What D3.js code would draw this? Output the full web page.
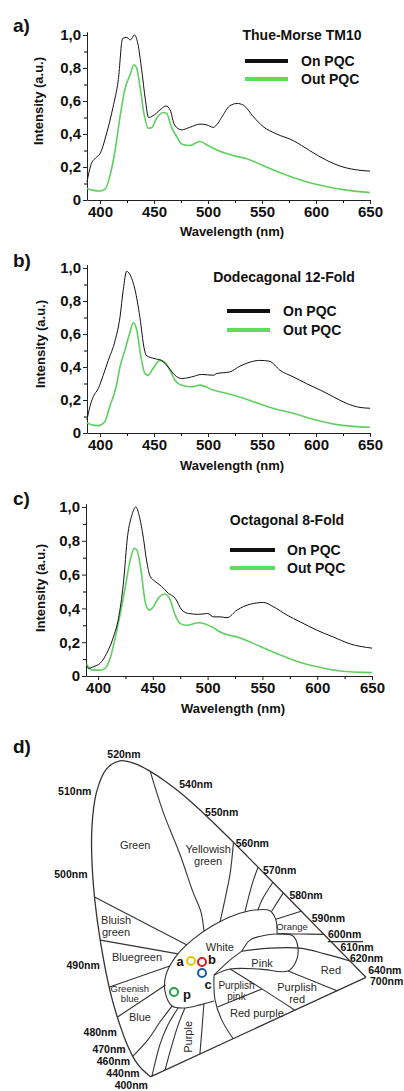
<!DOCTYPE html>
<html>
<head>
<meta charset="utf-8">
<script src="https://cdn.jsdelivr.net/npm/d3@7"></script>
<style>
  body { margin: 0; background: #fff; }
  svg { display: block; font-family: "Liberation Sans", Arial, sans-serif; }
</style>
</head>
<body>
<svg id="fig" width="404" height="1091"></svg>
<script>
// ---- spectra (wavelength nm / normalised intensity) ----
var aOnNm  = [388, 392, 397, 400, 406, 412, 417, 421, 425, 428, 432, 435, 438.6, 442, 445, 449, 455.5, 461, 465, 469, 475.6, 483, 492.6, 499, 505, 508, 512.6, 520, 527, 532.7, 542, 551, 563.6, 579, 594, 610, 625, 640.7, 650];
var aOnVal = [0.11, 0.22, 0.26, 0.28, 0.40, 0.56, 0.73, 0.98, 0.985, 0.97, 1.0, 0.95, 0.79, 0.61, 0.50, 0.51, 0.545, 0.57, 0.545, 0.455, 0.425, 0.44, 0.46, 0.455, 0.44, 0.455, 0.50, 0.57, 0.585, 0.575, 0.505, 0.445, 0.40, 0.36, 0.30, 0.24, 0.20, 0.18, 0.175];
var aOutNm  = [388, 393, 400, 404.6, 409, 414, 418.5, 423, 428, 431.5, 434, 437, 440.7, 444.7, 448, 452.5, 458.6, 461.7, 466, 471, 475.6, 483, 492.6, 500, 511, 523, 536, 554, 573, 591, 610, 628, 650];
var aOutVal = [0.07, 0.06, 0.055, 0.065, 0.14, 0.30, 0.50, 0.67, 0.76, 0.82, 0.80, 0.69, 0.525, 0.435, 0.44, 0.495, 0.53, 0.525, 0.445, 0.385, 0.34, 0.33, 0.355, 0.33, 0.295, 0.27, 0.25, 0.20, 0.15, 0.11, 0.08, 0.06, 0.045];

var bOnNm  = [388, 390.7, 393.8, 398.5, 403, 407.7, 414, 418.5, 421.6, 424.7, 427.8, 432.4, 437, 441, 443, 451, 457, 463, 469.4, 475.6, 485, 494, 505, 508, 520, 529.6, 539, 548, 557, 566.7, 579, 591, 604, 616, 628, 640.7, 650];
var bOnVal = [0.08, 0.16, 0.22, 0.27, 0.35, 0.44, 0.56, 0.70, 0.87, 0.98, 0.96, 0.87, 0.70, 0.51, 0.47, 0.45, 0.44, 0.40, 0.35, 0.33, 0.34, 0.355, 0.35, 0.36, 0.37, 0.405, 0.43, 0.44, 0.435, 0.38, 0.34, 0.30, 0.26, 0.22, 0.18, 0.155, 0.15];
var bOutNm  = [388, 392, 398.5, 404.6, 409, 415, 418.5, 423, 427.8, 430.9, 434, 438, 441.7, 444.8, 449, 455.5, 460, 465, 469.4, 475.6, 485, 492.6, 505, 511, 523, 542, 560, 579, 597.5, 616, 634.6, 650];
var bOutVal = [0.06, 0.05, 0.045, 0.07, 0.16, 0.28, 0.40, 0.50, 0.61, 0.67, 0.625, 0.46, 0.36, 0.35, 0.39, 0.44, 0.43, 0.38, 0.32, 0.29, 0.28, 0.29, 0.26, 0.25, 0.23, 0.19, 0.15, 0.12, 0.083, 0.055, 0.04, 0.035];

var cOnNm  = [389.6, 391, 395.7, 401.8, 408, 414, 418.6, 423, 427, 430.8, 434.5, 437.5, 441.4, 444.5, 447.5, 452, 458, 464, 470.4, 476.5, 482.5, 491.7, 500, 505.4, 511.5, 517.6, 526.8, 539, 551, 560, 572.5, 584.6, 600, 615, 630, 650];
var cOnVal = [0.06, 0.045, 0.055, 0.075, 0.135, 0.23, 0.34, 0.54, 0.83, 0.95, 1.0, 0.95, 0.815, 0.675, 0.59, 0.56, 0.53, 0.49, 0.46, 0.39, 0.37, 0.365, 0.37, 0.35, 0.35, 0.345, 0.39, 0.425, 0.435, 0.41, 0.36, 0.32, 0.27, 0.23, 0.19, 0.165];
var cOutNm  = [389.6, 391, 395.7, 401.8, 406.4, 411, 415.5, 420, 424.7, 429, 433, 435.4, 439.3, 443, 446.6, 450.6, 455, 461, 465.8, 470.4, 475, 481, 491.7, 505.4, 511.5, 529.8, 548, 566, 584.6, 603, 621, 650];
var cOutVal = [0.07, 0.055, 0.035, 0.035, 0.045, 0.105, 0.22, 0.36, 0.52, 0.675, 0.755, 0.745, 0.62, 0.44, 0.39, 0.41, 0.46, 0.485, 0.45, 0.36, 0.31, 0.30, 0.315, 0.285, 0.26, 0.225, 0.175, 0.125, 0.08, 0.05, 0.03, 0.02];

var panelLetters = ['a)', 'b)', 'c)'];
var panelTitles = ['Thue-Morse TM10', 'Dodecagonal 12-Fold', 'Octagonal 8-Fold'];
var seriesNames = ['On PQC', 'Out PQC'];
var xTickValues = [400, 450, 500, 550, 600, 650];
var xMinorValues = [425, 475, 525, 575, 625];
var yTickValues = [0, 0.2, 0.4, 0.6, 0.8, 1.0];
var yMinorValues = [0.1, 0.3, 0.5, 0.7, 0.9];

// ---- CIE 1931 spectral locus (nm, x, y) ----
var locusNm = [400, 405, 410, 415, 420, 425, 430, 435, 440, 445, 450, 455, 460, 465, 470, 475, 480, 485, 490, 495, 500, 505, 510, 515, 520, 525, 530, 535, 540, 545, 550, 555, 560, 565, 570, 575, 580, 585, 590, 595, 600, 605, 610, 615, 620, 625, 630, 635, 640, 645, 650, 660, 680, 700];
var locusX = [0.1733, 0.1730, 0.1726, 0.1721, 0.1714, 0.1703, 0.1689, 0.1669, 0.1644, 0.1611, 0.1566, 0.1510, 0.1440, 0.1355, 0.1241, 0.1096, 0.0913, 0.0687, 0.0454, 0.0235, 0.0082, 0.0039, 0.0139, 0.0389, 0.0743, 0.1142, 0.1547, 0.1929, 0.2296, 0.2658, 0.3016, 0.3373, 0.3731, 0.4087, 0.4441, 0.4788, 0.5125, 0.5448, 0.5752, 0.6029, 0.6270, 0.6482, 0.6658, 0.6801, 0.6915, 0.7006, 0.7079, 0.7140, 0.7190, 0.7230, 0.7260, 0.7300, 0.7334, 0.7347];
var locusY = [0.0048, 0.0048, 0.0048, 0.0048, 0.0051, 0.0058, 0.0069, 0.0086, 0.0109, 0.0138, 0.0177, 0.0227, 0.0297, 0.0399, 0.0578, 0.0868, 0.1327, 0.2007, 0.2950, 0.4127, 0.5384, 0.6548, 0.7502, 0.8120, 0.8338, 0.8262, 0.8059, 0.7816, 0.7543, 0.7243, 0.6923, 0.6589, 0.6245, 0.5896, 0.5547, 0.5202, 0.4866, 0.4544, 0.4242, 0.3965, 0.3725, 0.3514, 0.3340, 0.3197, 0.3083, 0.2993, 0.2920, 0.2859, 0.2809, 0.2770, 0.2740, 0.2700, 0.2666, 0.2653];

// wavelengths written along the locus
var nmLabels = [520, 510, 540, 550, 560, 570, 580, 590, 600, 610, 620, 640, 700, 500, 490, 480, 470, 460, 440, 400];

// colour-name region boundaries, in chromaticity coordinates
var kellyLines = [
  [[0.335, 0.203], [0.299, 0.193], [0.259, 0.185], [0.225, 0.190], [0.206, 0.227], [0.207, 0.271], [0.233, 0.321], [0.274, 0.363], [0.326, 0.400], [0.386, 0.429], [0.438, 0.442], [0.478, 0.440], [0.494, 0.416], [0.498, 0.379]],
  [[0.334, 0.271], [0.376, 0.287], [0.455, 0.287], [0.529, 0.282], [0.549, 0.306], [0.554, 0.342], [0.540, 0.374], [0.498, 0.379]],
  [[0.334, 0.271], [0.370, 0.306], [0.406, 0.334]],
  [[0.334, 0.271], [0.338, 0.206], [0.357, 0.153], [0.388, 0.104]],
  [[0.406, 0.334], [0.427, 0.363], [0.458, 0.374], [0.498, 0.379], [0.558, 0.379], [0.622, 0.378]],
  [[0.406, 0.334], [0.480, 0.342], [0.559, 0.342], [0.625, 0.327], [0.6915, 0.3083]],
  [[0.494, 0.418], [0.560, 0.439]],
  [[0.512, 0.487], [0.482, 0.438]],
  [[0.484, 0.515], [0.456, 0.468], [0.446, 0.442]],
  [[0.4441, 0.5547], [0.429, 0.508], [0.412, 0.437]],
  [[0.378, 0.619], [0.371, 0.539], [0.361, 0.482], [0.347, 0.411]],
  [[0.1547, 0.8059], [0.191, 0.699], [0.238, 0.587], [0.274, 0.489], [0.296, 0.437], [0.305, 0.387]],
  [[0.0158, 0.4756], [0.261, 0.350]],
  [[0.0327, 0.363], [0.238, 0.327]],
  [[0.059, 0.240], [0.217, 0.295]],
  [[0.082, 0.161], [0.207, 0.245]],
  [[0.1241, 0.0578], [0.163, 0.101], [0.194, 0.148], [0.225, 0.190]],
  [[0.176, 0.006], [0.195, 0.088], [0.215, 0.140], [0.241, 0.185]],
  [[0.210, 0.022], [0.227, 0.088], [0.242, 0.140], [0.259, 0.185]],
  [[0.309, 0.198], [0.305, 0.127], [0.301, 0.064]],
  [[0.345, 0.1875], [0.461, 0.235]],
  [[0.376, 0.287], [0.461, 0.235], [0.549, 0.179]],
  [[0.529, 0.282], [0.659, 0.230]],
  [[0.632, 0.359], [0.725, 0.359]]
];

var regionNames = [['Green'], ['Yellowish', 'green'], ['Bluish', 'green'], ['Bluegreen'], ['White'], ['Orange'], ['Pink'], ['Red'], ['Greenish', 'blue'], ['Blue'], ['Purplish', 'pink'], ['Purplish', 'red'], ['Red purple'], ['Purple']];
var regionXY = [[0.119, 0.613], [0.312, 0.587], [0.073, 0.399], [0.130, 0.319], [0.348, 0.345], [0.537, 0.400], [0.460, 0.303], [0.642, 0.285], [0.113, 0.224], [0.141, 0.161], [0.394, 0.231], [0.554, 0.224], [0.449, 0.172], [0.269, 0.109]];

// measured emission chromaticities
var pointNames = ['a', 'b', 'c', 'p'];
var pointXY = [[0.2725, 0.308], [0.3016, 0.3056], [0.3022, 0.2767], [0.2294, 0.2268]];
var pointColors = ['#f2c400', '#d81e1e', '#1c5aa6', '#2a9e44'];

var svg = d3.select('#fig');
var black = '#111';
var green = '#5fcf5f';

function fmtY(d) {
  return d === 0 ? '0' : d3.format('.1f')(d).replace('.', ',');
}

// one spectrum panel
function plotPanel(i, on, out, opt) {
  var x = d3.scaleLinear().domain(opt.xDomain).range(opt.xRange);
  var y = d3.scaleLinear().domain([0, 1.02]).range([opt.y0, opt.y0 - 1.02 * (opt.y0 - opt.y1)]);
  var g = svg.append('g');

  var line = d3.line()
      .x(function(d) { return x(d[0]); })
      .y(function(d) { return y(d[1]); })
      .curve(d3.curveMonotoneX);

  // minor ticks
  g.append('g')
    .attr('transform', 'translate(0,' + opt.y0 + ')')
    .call(d3.axisBottom(x).tickValues(xMinorValues).tickSize(3).tickFormat(''))
    .call(function(s) { s.select('.domain').remove(); });
  g.append('g')
    .attr('transform', 'translate(' + opt.xRange[0] + ',0)')
    .call(d3.axisLeft(y).tickValues(yMinorValues).tickSize(3).tickFormat(''))
    .call(function(s) { s.select('.domain').remove(); });

  // x axis
  var xa = g.append('g')
    .attr('transform', 'translate(0,' + opt.y0 + ')')
    .call(d3.axisBottom(x).tickValues(xTickValues).tickSize(4).tickSizeOuter(0).tickPadding(2));
  // y axis
  var ya = g.append('g')
    .attr('transform', 'translate(' + opt.xRange[0] + ',0)')
    .call(d3.axisLeft(y).tickValues(yTickValues).tickFormat(fmtY).tickSize(4).tickSizeOuter(0).tickPadding(2));

  [xa, ya].forEach(function(a) {
    a.attr('font-family', null).attr('font-size', null);
    a.selectAll('text').attr('font-size', 15).attr('font-weight', 'bold').attr('fill', black);
    a.selectAll('line, path').attr('stroke', '#222');
  });

  // curves
  g.append('path')
    .datum(d3.zip(out[0], out[1]))
    .attr('fill', 'none').attr('stroke', green).attr('stroke-width', 1.6)
    .attr('d', line);
  g.append('path')
    .datum(d3.zip(on[0], on[1]))
    .attr('fill', 'none').attr('stroke', black).attr('stroke-width', 1)
    .attr('d', line);

  // axis titles
  g.append('text')
    .attr('x', opt.xTitle[0]).attr('y', opt.xTitle[1])
    .attr('text-anchor', 'middle').attr('dominant-baseline', 'central')
    .attr('font-size', 13).attr('font-weight', 'bold').attr('fill', black)
    .text('Wavelength (nm)');
  g.append('text')
    .attr('transform', 'translate(' + opt.yTitle[0] + ',' + opt.yTitle[1] + ') rotate(-90)')
    .attr('text-anchor', 'middle').attr('dominant-baseline', 'central')
    .attr('font-size', 13).attr('font-weight', 'bold').attr('fill', black)
    .text('Intensity (a.u.)');

  // panel letter + title
  g.append('text')
    .attr('x', 13).attr('y', opt.letterY)
    .attr('dominant-baseline', 'central')
    .attr('font-size', 19).attr('font-weight', 'bold').attr('fill', black)
    .text(panelLetters[i]);
  g.append('text')
    .attr('x', opt.title[0]).attr('y', opt.title[1])
    .attr('text-anchor', 'middle').attr('dominant-baseline', 'central')
    .attr('font-size', 14).attr('font-weight', 'bold').attr('fill', black)
    .text(panelTitles[i]);

  // legend
  var lg = g.append('g');
  [black, green].forEach(function(c, k) {
    var ly = opt.legend.y[k];
    lg.append('line')
      .attr('x1', opt.legend.x[0]).attr('x2', opt.legend.x[1])
      .attr('y1', ly).attr('y2', ly)
      .attr('stroke', k === 0 ? black : '#5ddc5d').attr('stroke-width', 4);
    lg.append('text')
      .attr('x', opt.legend.tx).attr('y', ly)
      .attr('dominant-baseline', 'central')
      .attr('font-size', 14).attr('font-weight', 'bold').attr('fill', black)
      .text(seriesNames[k]);
  });
}

plotPanel(0, [aOnNm, aOnVal], [aOutNm, aOutVal], {
  xDomain: [388, 650], xRange: [87, 370], y0: 200, y1: 35,
  xTitle: [232, 231], yTitle: [38, 101], letterY: 25,
  title: [302, 35], legend: {x: [245, 288], y: [61, 79], tx: 301}
});
plotPanel(1, [bOnNm, bOnVal], [bOutNm, bOutVal], {
  xDomain: [388, 650], xRange: [87, 370], y0: 433, y1: 268,
  xTitle: [232, 465], yTitle: [40, 344], letterY: 260,
  title: [284, 277], legend: {x: [227, 270], y: [311, 330], tx: 283}
});
plotPanel(2, [cOnNm, cOnVal], [cOutNm, cOutVal], {
  xDomain: [389, 650], xRange: [86, 372], y0: 676, y1: 507,
  xTitle: [233, 708], yTitle: [40, 588], letterY: 498,
  title: [287, 520], legend: {x: [230, 275], y: [550, 568], tx: 287}
});

// ---- d) chromaticity diagram ----
var cieX = d3.scaleLinear().domain([0, 1]).range([85.2, 464.5]);
var cieY = d3.scaleLinear().domain([0, 1]).range([1078.4, 697.5]);
var cieShear = d3.scaleLinear().domain([0, 1]).range([0, 7.9]);   // drawing is slightly slanted
function proj(p) { return [cieX(p[0]) + cieShear(p[1]), cieY(p[1])]; }

var dg = svg.append('g');
var locus = d3.zip(locusX, locusY);
var ink = '#333';

dg.append('path')
  .datum(locus)
  .attr('fill', 'none').attr('stroke', ink).attr('stroke-width', 1.3)
  .attr('d', d3.line().x(function(d) { return proj(d)[0]; }).y(function(d) { return proj(d)[1]; }).curve(d3.curveCatmullRom));
// purple line
dg.append('path')
  .datum([locus[0], locus[locus.length - 1]])
  .attr('fill', 'none').attr('stroke', ink).attr('stroke-width', 1.3)
  .attr('d', d3.line().x(function(d) { return proj(d)[0]; }).y(function(d) { return proj(d)[1]; }));

var kline = d3.line()
    .x(function(d) { return proj(d)[0]; })
    .y(function(d) { return proj(d)[1]; })
    .curve(d3.curveCatmullRom);
dg.selectAll('path.kelly')
  .data(kellyLines)
  .enter().append('path')
  .attr('class', 'kelly')
  .attr('fill', 'none').attr('stroke', ink).attr('stroke-width', 1.1)
  .attr('d', kline);

// wavelength labels: offset from the locus point, anchor
var nmOffset = {
  520: [4, -7, 'middle'], 510: [-5, -2, 'end'], 540: [1, -7, 'start'], 550: [0, -3, 'start'],
  560: [4, 2, 'start'], 570: [5, 3, 'start'], 580: [6, 2, 'start'], 590: [5, 1, 'start'],
  600: [2, -3, 'start'], 610: [0, -4.5, 'start'], 620: [0, -2.5, 'start'], 640: [8, -1.5, 'start'],
  700: [4, 4, 'start'], 500: [-5, 1, 'end'], 490: [-5, -1, 'end'], 480: [-4, 4, 'end'],
  470: [-7, -7.5, 'end'], 460: [-10, -6, 'end'], 440: [-8, -1, 'end'], 400: [-3, 8, 'end']
};
dg.selectAll('text.nm')
  .data(nmLabels)
  .enter().append('text')
  .attr('class', 'nm')
  .each(function(nm) {
    var k = locusNm.indexOf(nm);
    var p = proj([locusX[k], locusY[k]]);
    var o = nmOffset[nm];
    d3.select(this).attr('x', p[0] + o[0]).attr('y', p[1] + o[1]).attr('text-anchor', o[2]);
  })
  .attr('dominant-baseline', 'central')
  .attr('font-size', 10.5).attr('font-weight', 'bold').attr('fill', black)
  .text(function(nm) { return nm + 'nm'; });

// region names
var smallNames = {'Orange': 9.5, 'Greenish': 9.5, 'Purplish pink': 10};
dg.selectAll('g.region')
  .data(regionNames)
  .enter().append('g')
  .attr('class', 'region')
  .each(function(lines, i) {
    var p = proj(regionXY[i]);
    var key = lines.join(' ');
    var fs = smallNames[lines[0]] || smallNames[key] || 11;
    var lh = fs + 1;
    var t = d3.select(this).append('text')
      .attr('text-anchor', 'middle').attr('dominant-baseline', 'central')
      .attr('font-size', fs).attr('fill', '#2a2a2a');
    if (lines[0] === 'Purple') {
      t.attr('transform', 'translate(' + p[0] + ',' + p[1] + ') rotate(-90)').text(lines[0]);
      return;
    }
    lines.forEach(function(s, j) {
      t.append('tspan')
        .attr('x', p[0])
        .attr('y', p[1] + (j - (lines.length - 1) / 2) * lh)
        .text(s);
    });
  });

// emission points
var letterOffset = {a: [-11, 0], b: [10, -2], c: [6, 11], p: [13, 2]};
pointXY.forEach(function(c, i) {
  var p = proj(c);
  dg.append('circle')
    .attr('cx', p[0]).attr('cy', p[1]).attr('r', 4)
    .attr('fill', 'none').attr('stroke', pointColors[i]).attr('stroke-width', 2);
  var o = letterOffset[pointNames[i]];
  dg.append('text')
    .attr('x', p[0] + o[0]).attr('y', p[1] + o[1])
    .attr('text-anchor', 'middle').attr('dominant-baseline', 'central')
    .attr('font-size', 13).attr('font-weight', 'bold').attr('fill', black)
    .text(pointNames[i]);
});

dg.append('text')
  .attr('x', 13).attr('y', 746)
  .attr('dominant-baseline', 'central')
  .attr('font-size', 19).attr('font-weight', 'bold').attr('fill', black)
  .text('d)');
</script>
</body>
</html>
